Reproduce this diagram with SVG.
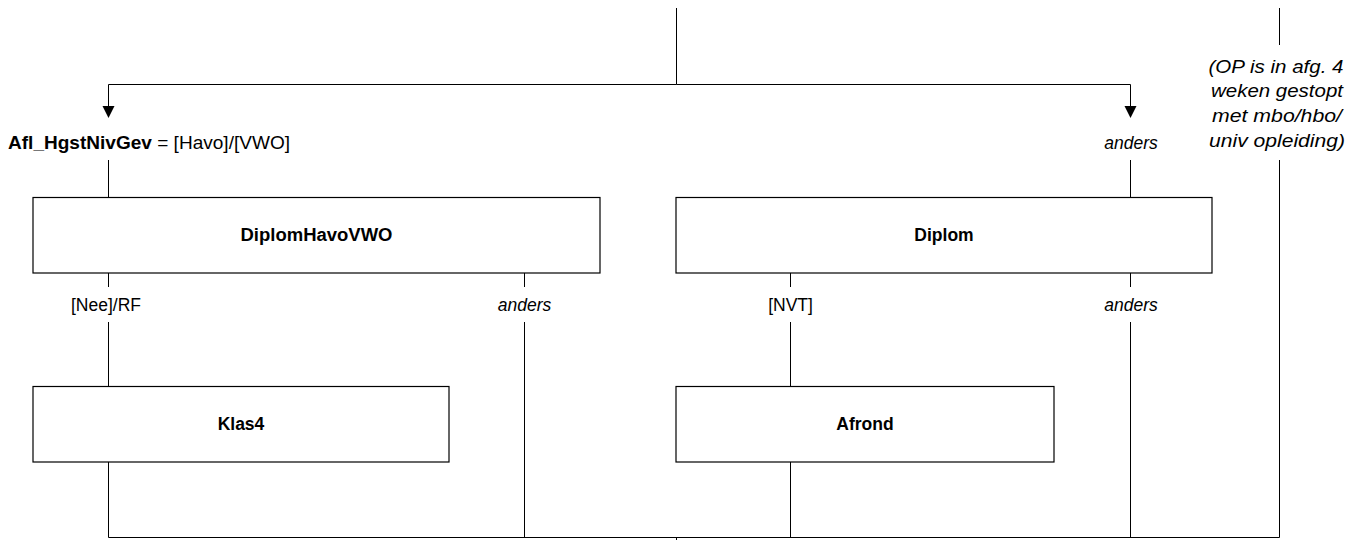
<svg xmlns="http://www.w3.org/2000/svg" width="1368" height="540" viewBox="0 0 1368 540">
<defs>
<style>
.ln{stroke:#000;stroke-width:1;fill:none}
.box{fill:#fff;stroke:#000;stroke-width:1.2}
text{font-family:"Liberation Sans",Arial,sans-serif;font-size:17.5px;fill:#000}
.b{font-weight:bold}
.i{font-style:italic}
.c{text-anchor:middle}
</style>
</defs>
<rect width="1368" height="540" fill="#fff"/>
<g id="connectors">
<path class="ln" d="M676.5,8 V84.5"/>
<path class="ln" d="M676.5,84.5 H108.5 V106"/>
<path class="ln" d="M676.5,84.5 H1130.5 V106"/>
<path d="M102.5,106 L114.5,106 L108.5,118 Z" fill="#000"/>
<path d="M1124.5,106 L1136.5,106 L1130.5,118 Z" fill="#000"/>
<path class="ln" d="M108.5,160 V197"/>
<path class="ln" d="M1130.5,160 V197"/>
<path class="ln" d="M1279.5,8 V45"/>
<path class="ln" d="M1279.5,160 V537.5"/>
<path class="ln" d="M108.5,273 V287"/>
<path class="ln" d="M108.5,322 V387"/>
<path class="ln" d="M524.5,273 V287"/>
<path class="ln" d="M524.5,322 V537.5"/>
<path class="ln" d="M790.5,273 V287"/>
<path class="ln" d="M790.5,322 V387"/>
<path class="ln" d="M1130.5,273 V287"/>
<path class="ln" d="M1130.5,322 V537.5"/>
<path class="ln" d="M108.5,462 V537.5"/>
<path class="ln" d="M790.5,462 V537.5"/>
<path class="ln" d="M108.5,537.5 H1279.5"/>
<path class="ln" d="M676.5,537.5 V540"/>
</g>
<g id="labels">
<text x="8" y="149" textLength="282" lengthAdjust="spacingAndGlyphs"><tspan class="b">Afl_HgstNivGev</tspan> = [Havo]/[VWO]</text>
<text class="c i" x="1131" y="149">anders</text>
<text class="c i" x="1276" y="73" textLength="135" lengthAdjust="spacingAndGlyphs">(OP is in afg. 4</text>
<text class="c i" x="1277" y="97" textLength="132" lengthAdjust="spacingAndGlyphs">weken gestopt</text>
<text class="c i" x="1277" y="122" textLength="130" lengthAdjust="spacingAndGlyphs">met mbo/hbo/</text>
<text class="c i" x="1277" y="147" textLength="136" lengthAdjust="spacingAndGlyphs">univ opleiding)</text>
<text class="c" x="106" y="311">[Nee]/RF</text>
<text class="c i" x="524.5" y="311">anders</text>
<text class="c" x="790.5" y="311">[NVT]</text>
<text class="c i" x="1131" y="311">anders</text>
</g>
<g id="DiplomHavoVWO">
<rect class="box" x="33" y="197.5" width="567" height="75.5"/>
<text class="c b" x="316.5" y="241" textLength="152" lengthAdjust="spacingAndGlyphs">DiplomHavoVWO</text>
</g>
<g id="Diplom">
<rect class="box" x="676" y="197.5" width="536" height="75.5"/>
<text class="c b" x="944" y="241">Diplom</text>
</g>
<g id="Klas4">
<rect class="box" x="33" y="386.5" width="416" height="75.5"/>
<text class="c b" x="241" y="430">Klas4</text>
</g>
<g id="Afrond">
<rect class="box" x="676" y="386.5" width="378" height="75.5"/>
<text class="c b" x="865" y="430">Afrond</text>
</g>
</svg>
